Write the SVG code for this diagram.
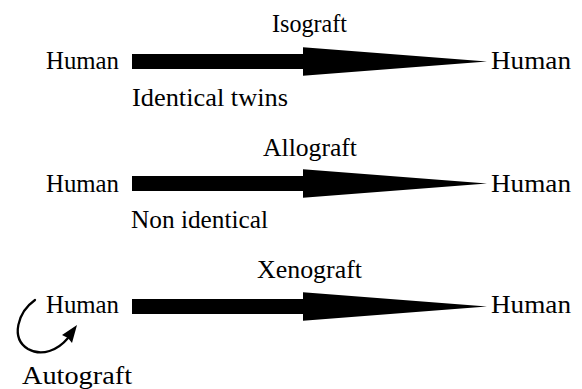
<svg xmlns="http://www.w3.org/2000/svg" width="582" height="389" viewBox="0 0 582 389">
  <style>
    text { font-family: "Liberation Serif", "DejaVu Serif", serif; font-size: 25px; fill: #000; }
    .arrow { fill: #000; }
    .loop { fill: none; stroke: #000; stroke-width: 2.3; stroke-linecap: round; }
  </style>
  <defs>
    <!-- block arrow: shaft, then a long tapering head -->
    <path id="blockArrow" d="M132,-7.5 H303 V-14.2 L487,0 L303,14.2 V7.5 H132 Z"/>
  </defs>

  <g id="isograft">
    <text x="46" y="69" textLength="73" lengthAdjust="spacingAndGlyphs">Human</text>
    <text x="491" y="69" textLength="80" lengthAdjust="spacingAndGlyphs">Human</text>
    <text x="272" y="32" textLength="75" lengthAdjust="spacingAndGlyphs">Isograft</text>
    <text x="132" y="106" textLength="156" lengthAdjust="spacingAndGlyphs">Identical twins</text>
  </g>
  <g id="allograft">
    <text x="46" y="192" textLength="73" lengthAdjust="spacingAndGlyphs">Human</text>
    <text x="491" y="192" textLength="80" lengthAdjust="spacingAndGlyphs">Human</text>
    <text x="263" y="156" textLength="94" lengthAdjust="spacingAndGlyphs">Allograft</text>
    <text x="131" y="228" textLength="137" lengthAdjust="spacingAndGlyphs">Non identical</text>
  </g>
  <g id="xenograft">
    <text x="46" y="313" textLength="73" lengthAdjust="spacingAndGlyphs">Human</text>
    <text x="491" y="313" textLength="80" lengthAdjust="spacingAndGlyphs">Human</text>
    <text x="257" y="278" textLength="105" lengthAdjust="spacingAndGlyphs">Xenograft</text>
  </g>
  <g id="autograft">
    <text x="22" y="384" textLength="110" lengthAdjust="spacingAndGlyphs">Autograft</text>
  </g>

  <g id="connectors">
    <use href="#blockArrow" class="arrow" transform="translate(0,61.5)"/>
    <use href="#blockArrow" class="arrow" transform="translate(0,183.5)"/>
    <use href="#blockArrow" class="arrow" transform="translate(0,306.5)"/>
    <!-- self loop with filled head -->
    <path class="loop" d="M35,300 C18,312 10,338 28,349 C42,357 58,350 68,338"/>
    <path class="arrow" d="M77,325 L72,343 L68,338 L62,335 Z"/>
  </g>
</svg>
